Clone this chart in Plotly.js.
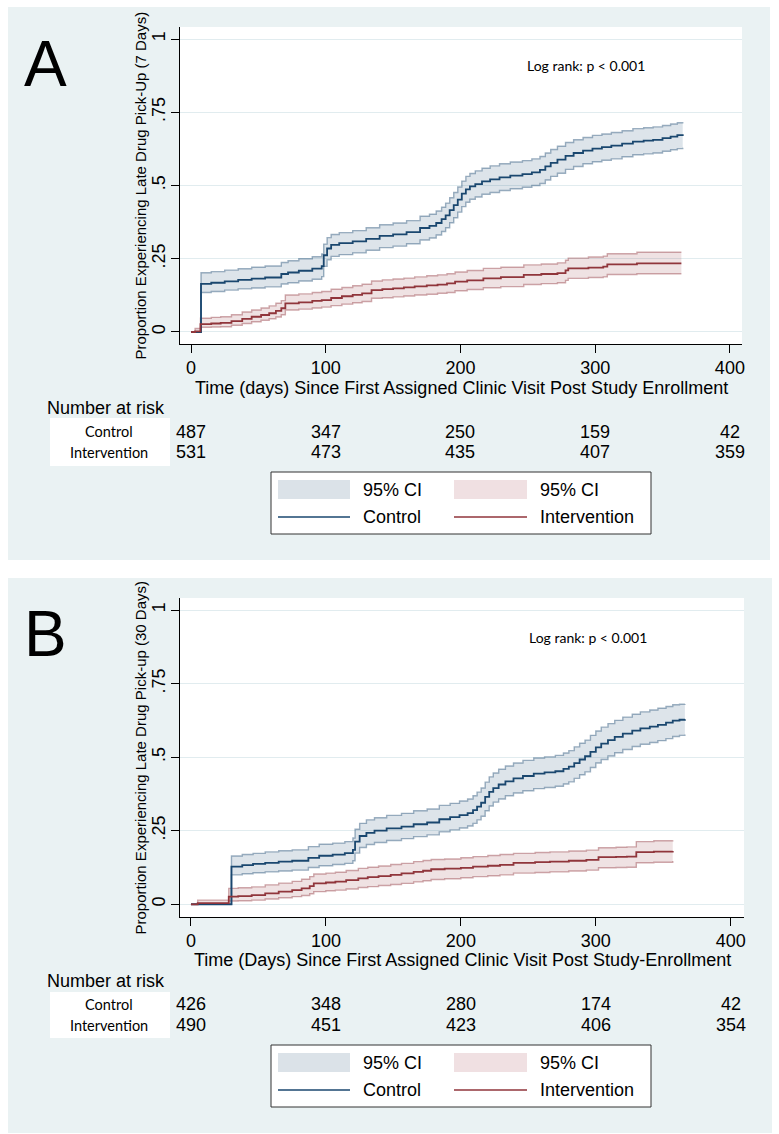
<!DOCTYPE html>
<html>
<head>
<meta charset="utf-8">
<script src="https://cdn.plot.ly/plotly-3.0.1.min.js"></script>
<style>
html,body{margin:0;padding:0;background:#ffffff;}
#chart{width:779px;height:1134px;}
</style>
</head>
<body>
<div id="chart"></div>
<script>
// ---------------- DATA ----------------
// Panel A (late pick-up, 7 days): Kaplan-Meier failure estimates and 95% CI
const cA_t  = [0, 7.4, 15, 25, 35, 45, 55, 67, 72, 80, 90, 97, 98.5, 101, 104, 110, 120, 130, 140, 150, 160, 170, 177, 182, 186, 189, 192, 195, 198, 201, 204, 207, 211, 216, 222, 229, 237, 246, 253, 259, 263, 267, 272, 278, 284, 291, 298, 305, 312, 320, 328, 336, 343, 350, 356, 361, 365];
const cA_est= [0, 0.164, 0.168, 0.173, 0.178, 0.182, 0.186, 0.198, 0.203, 0.209, 0.216, 0.225, 0.262, 0.285, 0.297, 0.303, 0.309, 0.318, 0.328, 0.333, 0.341, 0.355, 0.362, 0.372, 0.385, 0.398, 0.416, 0.433, 0.452, 0.472, 0.487, 0.497, 0.505, 0.514, 0.521, 0.528, 0.534, 0.539, 0.545, 0.553, 0.565, 0.577, 0.588, 0.601, 0.611, 0.619, 0.626, 0.631, 0.636, 0.643, 0.650, 0.653, 0.656, 0.662, 0.667, 0.672, 0.675];
const cA_hi = [0, 0.202, 0.206, 0.211, 0.216, 0.221, 0.225, 0.237, 0.243, 0.250, 0.257, 0.266, 0.300, 0.322, 0.333, 0.339, 0.346, 0.356, 0.366, 0.372, 0.380, 0.395, 0.402, 0.413, 0.426, 0.440, 0.458, 0.476, 0.495, 0.515, 0.531, 0.541, 0.550, 0.559, 0.567, 0.574, 0.580, 0.585, 0.591, 0.599, 0.611, 0.623, 0.634, 0.647, 0.656, 0.664, 0.671, 0.676, 0.681, 0.687, 0.694, 0.697, 0.700, 0.705, 0.710, 0.714, 0.717];
const cA_lo = [0, 0.135, 0.138, 0.143, 0.147, 0.150, 0.154, 0.164, 0.168, 0.174, 0.180, 0.189, 0.224, 0.246, 0.258, 0.264, 0.270, 0.279, 0.288, 0.293, 0.301, 0.314, 0.321, 0.331, 0.343, 0.356, 0.373, 0.390, 0.409, 0.428, 0.443, 0.453, 0.461, 0.470, 0.476, 0.483, 0.489, 0.494, 0.500, 0.507, 0.519, 0.531, 0.542, 0.555, 0.565, 0.574, 0.581, 0.586, 0.591, 0.598, 0.605, 0.608, 0.611, 0.617, 0.622, 0.626, 0.629];

const iA_t  = [0, 3, 7, 15, 22, 30, 38, 45, 52, 58, 63, 67, 70, 80, 90, 97, 104, 112, 120, 127, 134, 142, 150, 158, 166, 175, 183, 190, 196, 205, 217, 230, 247, 260, 272, 278, 280, 295, 306, 309, 331, 364];
const iA_est= [0, 0.002, 0.027, 0.029, 0.031, 0.037, 0.045, 0.052, 0.058, 0.064, 0.072, 0.081, 0.098, 0.101, 0.106, 0.109, 0.116, 0.122, 0.127, 0.132, 0.143, 0.146, 0.149, 0.152, 0.156, 0.159, 0.162, 0.166, 0.172, 0.176, 0.183, 0.187, 0.195, 0.198, 0.201, 0.210, 0.217, 0.220, 0.223, 0.231, 0.234, 0.234];
const iA_hi = [0, 0.012, 0.047, 0.050, 0.052, 0.059, 0.068, 0.075, 0.082, 0.089, 0.098, 0.107, 0.126, 0.130, 0.135, 0.138, 0.146, 0.152, 0.158, 0.163, 0.174, 0.178, 0.181, 0.184, 0.188, 0.192, 0.195, 0.199, 0.205, 0.210, 0.217, 0.221, 0.229, 0.232, 0.236, 0.245, 0.252, 0.256, 0.259, 0.267, 0.272, 0.272];
const iA_lo = [0, 0.000, 0.016, 0.017, 0.018, 0.023, 0.029, 0.035, 0.040, 0.045, 0.051, 0.059, 0.075, 0.078, 0.082, 0.085, 0.090, 0.095, 0.100, 0.104, 0.115, 0.117, 0.120, 0.123, 0.126, 0.129, 0.132, 0.135, 0.141, 0.145, 0.151, 0.155, 0.162, 0.165, 0.168, 0.176, 0.183, 0.186, 0.188, 0.196, 0.199, 0.199];

// Panel B (late pick-up, 30 days)
const cB_t  = [0, 30, 38, 46, 55, 65, 75, 87, 95, 105, 114, 120, 121.6, 125, 130, 136, 145, 156, 165, 175, 184, 192, 199, 205, 209, 212, 215, 218, 221, 224, 228, 233, 239, 246, 254, 262, 270, 276, 280, 284, 288, 292, 296, 300, 304, 309, 314, 320, 327, 333, 340, 346, 352, 357, 362, 366];
const cB_est= [0, 0.128, 0.133, 0.137, 0.141, 0.145, 0.148, 0.158, 0.165, 0.169, 0.174, 0.185, 0.213, 0.232, 0.243, 0.250, 0.258, 0.264, 0.272, 0.278, 0.289, 0.296, 0.303, 0.310, 0.320, 0.332, 0.345, 0.365, 0.382, 0.395, 0.407, 0.418, 0.428, 0.436, 0.444, 0.448, 0.452, 0.460, 0.468, 0.480, 0.492, 0.503, 0.518, 0.533, 0.546, 0.558, 0.569, 0.580, 0.590, 0.598, 0.604, 0.610, 0.617, 0.624, 0.627, 0.629];
const cB_hi = [0, 0.164, 0.169, 0.173, 0.178, 0.182, 0.185, 0.196, 0.204, 0.208, 0.213, 0.225, 0.255, 0.275, 0.287, 0.294, 0.302, 0.309, 0.318, 0.324, 0.336, 0.343, 0.351, 0.358, 0.369, 0.381, 0.395, 0.415, 0.433, 0.446, 0.459, 0.470, 0.480, 0.489, 0.497, 0.501, 0.506, 0.514, 0.522, 0.535, 0.547, 0.558, 0.574, 0.589, 0.602, 0.614, 0.625, 0.636, 0.646, 0.654, 0.660, 0.666, 0.672, 0.678, 0.680, 0.681];
const cB_lo = [0, 0.100, 0.104, 0.107, 0.110, 0.113, 0.116, 0.125, 0.131, 0.135, 0.139, 0.148, 0.174, 0.193, 0.203, 0.210, 0.217, 0.223, 0.230, 0.236, 0.246, 0.253, 0.259, 0.266, 0.275, 0.287, 0.299, 0.318, 0.334, 0.347, 0.358, 0.369, 0.378, 0.386, 0.393, 0.397, 0.401, 0.409, 0.416, 0.428, 0.440, 0.450, 0.465, 0.480, 0.492, 0.504, 0.515, 0.526, 0.536, 0.544, 0.550, 0.556, 0.563, 0.570, 0.574, 0.577];

const iB_t  = [0, 5, 28, 35, 45, 55, 65, 75, 82, 88, 91, 100, 107, 115, 124, 131, 139, 148, 156, 165, 172, 178, 188, 200, 209, 220, 229, 239, 255, 266, 280, 293, 302, 315, 323, 330, 343, 357];
const iB_est= [0, 0.004, 0.026, 0.028, 0.031, 0.037, 0.043, 0.048, 0.054, 0.062, 0.071, 0.074, 0.077, 0.082, 0.088, 0.092, 0.096, 0.100, 0.105, 0.110, 0.114, 0.119, 0.121, 0.124, 0.128, 0.131, 0.134, 0.141, 0.143, 0.145, 0.148, 0.151, 0.160, 0.161, 0.162, 0.177, 0.179, 0.181];
const iB_hi = [0, 0.014, 0.054, 0.056, 0.059, 0.066, 0.072, 0.078, 0.085, 0.094, 0.103, 0.106, 0.109, 0.115, 0.122, 0.126, 0.130, 0.135, 0.139, 0.145, 0.149, 0.152, 0.154, 0.158, 0.162, 0.166, 0.169, 0.173, 0.176, 0.178, 0.181, 0.184, 0.192, 0.194, 0.195, 0.213, 0.216, 0.218];
const iB_lo = [0, 0.001, 0.011, 0.012, 0.014, 0.018, 0.022, 0.026, 0.030, 0.036, 0.043, 0.046, 0.048, 0.052, 0.057, 0.060, 0.064, 0.067, 0.071, 0.076, 0.080, 0.084, 0.087, 0.090, 0.094, 0.097, 0.100, 0.106, 0.108, 0.110, 0.113, 0.116, 0.124, 0.125, 0.126, 0.141, 0.143, 0.147];

// Number at risk tables
const riskTimes = [0, 100, 200, 300, 400];
const riskA_control = [487, 347, 250, 159, 42];
const riskA_intervention = [531, 473, 435, 407, 359];
const riskB_control = [426, 348, 280, 174, 42];
const riskB_intervention = [490, 451, 423, 406, 354];

// Tick labels and texts
const xTicks = [0, 100, 200, 300, 400];
const yTicks = [0, 0.25, 0.5, 0.75, 1];
const yTickText = ['0', '.25', '.5', '.75', '1'];
const groupNames = ['Control', 'Intervention'];
const ciLabel = '95% CI';
const xTitleA = 'Time (days) Since First Assigned Clinic Visit Post Study Enrollment';
const yTitleA = 'Proportion Experiencing Late Drug Pick-Up (7 Days)';
const xTitleB = 'Time (Days) Since First Assigned Clinic Visit Post Study-Enrollment';
const yTitleB = 'Proportion Experiencing Late Drug Pick-up (30 Days)';
const logRankText = 'Log rank: p < 0.001';

// ---------------- STYLE ----------------
const W = 779, H = 1134;
const X = v => v / W;
const Y = v => 1 - v / H;
const F = 'Liberation Sans, Arial, Helvetica, sans-serif';
const FC = 'Lato, Carlito, Calibri, sans-serif';
const NAVY = '#1a476f', MAROON = '#90353b';
const NAVY_CI = 'rgba(26,71,111,0.42)', MAROON_CI = 'rgba(144,53,59,0.42)';
const NAVY_FILL = 'rgba(26,71,111,0.15)', MAROON_FILL = 'rgba(144,53,59,0.14)';
const PANEL = '#eaf2f3';
const GRID = '#e1ecef';

function bandTraces(t, lo, hi, lineCol, fillCol, xa, ya) {
  return [
    {x: t, y: hi, xaxis: xa, yaxis: ya, mode: 'lines', line: {shape: 'hv', color: lineCol, width: 1.4}, hoverinfo: 'skip'},
    {x: t, y: lo, xaxis: xa, yaxis: ya, mode: 'lines', fill: 'tonexty', fillcolor: fillCol, line: {shape: 'hv', color: lineCol, width: 1.4}, hoverinfo: 'skip'}
  ];
}
function estTrace(t, est, col, xa, ya, name) {
  return {x: t, y: est, xaxis: xa, yaxis: ya, mode: 'lines', name: name, line: {shape: 'hv', color: col, width: 1.8}};
}

const data = [].concat(
  bandTraces(cA_t, cA_lo, cA_hi, NAVY_CI, NAVY_FILL, 'x', 'y'),
  bandTraces(iA_t, iA_lo, iA_hi, MAROON_CI, MAROON_FILL, 'x', 'y'),
  [estTrace(cA_t, cA_est, NAVY, 'x', 'y', groupNames[0]), estTrace(iA_t, iA_est, MAROON, 'x', 'y', groupNames[1])],
  bandTraces(cB_t, cB_lo, cB_hi, NAVY_CI, NAVY_FILL, 'x2', 'y2'),
  bandTraces(iB_t, iB_lo, iB_hi, MAROON_CI, MAROON_FILL, 'x2', 'y2'),
  [estTrace(cB_t, cB_est, NAVY, 'x2', 'y2', groupNames[0]), estTrace(iB_t, iB_est, MAROON, 'x2', 'y2', groupNames[1])]
);

const axBase = {showline: true, linecolor: '#000', linewidth: 1, ticks: 'outside', ticklen: 8, tickwidth: 1, tickcolor: '#000', zeroline: false, fixedrange: true};
function xAxis(domain, range, anchor, lblOff) {
  return Object.assign({}, axBase, {domain: domain, range: range, anchor: anchor, showgrid: false,
    tickvals: xTicks, tickfont: {family: F, size: 18, color: '#000'}, ticklabelstandoff: lblOff});
}
function yAxis(domain, range, anchor) {
  return Object.assign({}, axBase, {domain: domain, range: range, anchor: anchor, showgrid: true, gridcolor: GRID, gridwidth: 1,
    tickvals: yTicks, ticktext: yTickText, tickangle: -90, tickfont: {family: F, size: 18, color: '#000'}, ticklabelstandoff: -1});
}

// panel geometry (page pixels)
const A = {bg: [8, 7, 770, 560], plot: [180, 27, 742, 344], off: 0};
const B = {bg: [8, 578, 772, 1133], plot: [180, 598, 744, 917], off: 573};

const shapes = [];
const annotations = [];
function panelDecor(P, letter, letterY, logX, logY, riskY, rowC, rowI, boxY, ctrl, intv, xref, xTitle, xTitleY, yTitle) {
  shapes.push({type: 'rect', layer: 'below', xref: 'paper', yref: 'paper', x0: X(P.bg[0]), x1: X(P.bg[2]), y0: Y(P.bg[3]), y1: Y(P.bg[1]), fillcolor: PANEL, line: {width: 0}});
  shapes.push({type: 'rect', layer: 'below', xref: 'paper', yref: 'paper', x0: X(P.plot[0]), x1: X(P.plot[2]), y0: Y(P.plot[3]), y1: Y(P.plot[1]), fillcolor: '#ffffff', line: {width: 0}});
  // white box behind group labels
  shapes.push({type: 'rect', layer: 'below', xref: 'paper', yref: 'paper', x0: X(50), x1: X(170), y0: Y(boxY[1]), y1: Y(boxY[0]), fillcolor: '#ffffff', line: {width: 0}});
  // axis titles
  annotations.push({text: xTitle, xref: 'paper', yref: 'paper', x: X((P.plot[0] + P.plot[2]) / 2), y: Y(xTitleY), xanchor: 'center', yanchor: 'middle', showarrow: false, font: {family: F, size: 18, color: '#000'}});
  annotations.push({text: yTitle, xref: 'paper', yref: 'paper', x: X(140), y: Y((P.plot[1] + P.plot[3]) / 2), xanchor: 'center', yanchor: 'middle', textangle: -90, showarrow: false, font: {family: F, size: 15, color: '#000'}});
  annotations.push({text: letter, xref: 'paper', yref: 'paper', x: X(45), y: Y(letterY), xanchor: 'center', yanchor: 'middle', showarrow: false, font: {family: F, size: 64, color: '#000'}});
  annotations.push({text: logRankText, xref: 'paper', yref: 'paper', x: X(logX), y: Y(logY), xanchor: 'center', yanchor: 'middle', showarrow: false, font: {family: FC, size: 14, color: '#000'}});
  annotations.push({text: 'Number at risk', xref: 'paper', yref: 'paper', x: X(45), y: Y(riskY), xanchor: 'left', yanchor: 'middle', showarrow: false, font: {family: F, size: 18, color: '#000'}});
  annotations.push({text: groupNames[0], xref: 'paper', yref: 'paper', x: X(109), y: Y(rowC), xanchor: 'center', yanchor: 'middle', showarrow: false, font: {family: FC, size: 14.5, color: '#000'}});
  annotations.push({text: groupNames[1], xref: 'paper', yref: 'paper', x: X(109), y: Y(rowI), xanchor: 'center', yanchor: 'middle', showarrow: false, font: {family: FC, size: 14.5, color: '#000'}});
  riskTimes.forEach((t, i) => {
    annotations.push({text: String(ctrl[i]), xref: xref, yref: 'paper', x: t, y: Y(rowC), xanchor: 'center', yanchor: 'middle', showarrow: false, font: {family: F, size: 18, color: '#000'}});
    annotations.push({text: String(intv[i]), xref: xref, yref: 'paper', x: t, y: Y(rowI), xanchor: 'center', yanchor: 'middle', showarrow: false, font: {family: F, size: 18, color: '#000'}});
  });
  // legend
  const o = P.off;
  shapes.push({type: 'rect', xref: 'paper', yref: 'paper', x0: X(271), x1: X(651), y0: Y(534 + o), y1: Y(472 + o), fillcolor: '#ffffff', line: {color: '#333333', width: 1}});
  shapes.push({type: 'rect', xref: 'paper', yref: 'paper', x0: X(278), x1: X(350), y0: Y(499 + o), y1: Y(480 + o), fillcolor: '#dbe2e8', line: {width: 0}});
  shapes.push({type: 'rect', xref: 'paper', yref: 'paper', x0: X(454), x1: X(527), y0: Y(499 + o), y1: Y(480 + o), fillcolor: '#f0e0e2', line: {width: 0}});
  shapes.push({type: 'line', xref: 'paper', yref: 'paper', x0: X(278), x1: X(350), y0: Y(517 + o), y1: Y(517 + o), line: {color: NAVY, width: 1.5}});
  shapes.push({type: 'line', xref: 'paper', yref: 'paper', x0: X(454), x1: X(527), y0: Y(517 + o), y1: Y(517 + o), line: {color: MAROON, width: 1.5}});
  [[361, 489.5, ciLabel], [538, 489.5, ciLabel], [361, 517, groupNames[0]], [538, 517, groupNames[1]]].forEach(e => {
    annotations.push({text: e[2], xref: 'paper', yref: 'paper', x: X(e[0]), y: Y(e[1] + o), xanchor: 'left', yanchor: 'middle', showarrow: false, font: {family: F, size: 18, color: '#000'}});
  });
}

panelDecor(A, 'A', 63.5, 586, 66, 408, 431.5, 452.5, [418, 466], riskA_control, riskA_intervention, 'x', xTitleA, 388, yTitleA);
panelDecor(B, 'B', 634, 588, 637, 981, 1004, 1025, [992, 1038], riskB_control, riskB_intervention, 'x2', xTitleB, 960, yTitleB);

const layout = {
  width: W, height: H, margin: {l: 0, r: 0, t: 0, b: 0},
  paper_bgcolor: '#ffffff', plot_bgcolor: 'rgba(0,0,0,0)',
  showlegend: false, hovermode: false,
  font: {family: F, size: 18, color: '#000'},
  xaxis: xAxis([X(A.plot[0]), X(A.plot[2])], [-8.2, 409], 'y', -1),
  yaxis: yAxis([Y(A.plot[3]), Y(A.plot[1])], [-0.041, 1.041], 'x'),
  xaxis2: xAxis([X(B.plot[0]), X(B.plot[2])], [-8.13, 409.8], 'y2', -1),
  yaxis2: yAxis([Y(B.plot[3]), Y(B.plot[1])], [-0.0432, 1.0408], 'x2'),
  shapes: shapes,
  annotations: annotations
};

Plotly.newPlot('chart', data, layout, {staticPlot: true, displayModeBar: false});
</script>
</body>
</html>
